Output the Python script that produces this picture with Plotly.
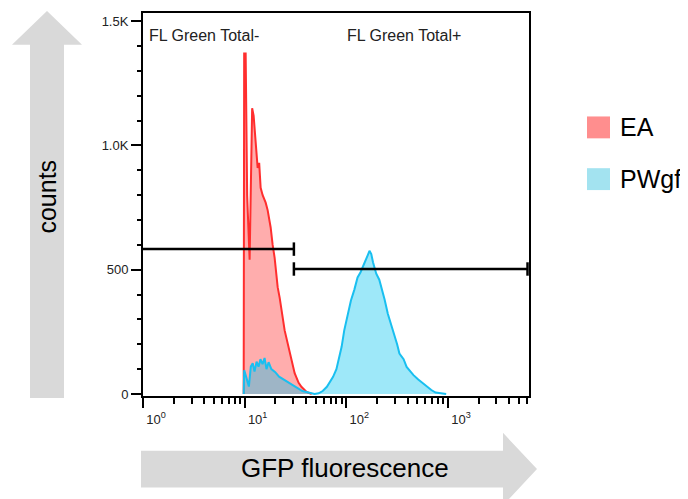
import numpy as np
import plotly.graph_objects as go

# histogram of EA (red) - fluorescence vs counts
ea_fl = [9.78, 9.89, 10.23, 10.58, 11.19, 11.59, 11.85, 12.25, 12.82, 13.42, 13.89,
         14.36, 15.03, 16.09, 16.83, 18.02, 18.85, 19.72, 21.12, 22.09, 24.74, 27.70,
         31.03, 33.96, 36.33, 40.66, 45.6]
ea_counts = [0, 1370, 1370, 800, 540, 900, 1150, 1120, 1000, 910, 930,
             830, 800, 770, 740, 670, 600, 548, 430, 388, 256, 164,
             84, 45, 28, 8, 0]

# histogram of PWgf (blue)
pw_fl = [9.78, 9.89, 10.5, 11.0, 11.5, 12.0, 12.5, 13.1, 13.7, 14.3, 15.0, 15.7,
         16.4, 17.2, 18.3, 20.0, 21.8, 23.9, 26.2, 29.4, 33.0, 37.0, 43.4, 48.7,
         53.4, 58.6, 64.4, 68.6, 74.1, 79.9, 84.1, 89.9, 95.4, 103, 111, 120, 129,
         138, 145, 151, 156, 163, 169, 176, 183, 197, 211, 222, 238, 256, 274, 294,
         316, 333, 366, 392, 416, 458, 510, 563, 623, 686, 755, 960]
pw_counts = [0, 96, 60, 30, 110, 124, 90, 130, 110, 140, 120, 145,
             100, 128, 100, 88, 70, 60, 50, 36, 24, 12, 5, 0,
             3, 12, 29, 45, 69, 100, 136, 190, 256, 320, 376, 420, 469,
             490, 509, 530, 544, 560, 576, 563, 530, 484, 460, 429, 380, 323, 285, 243,
             200, 163, 140, 109, 95, 76, 58, 43, 28, 16, 6, 0]

# gates
gate_neg = dict(x0=1, x1=30.5, y=583, label="FL Green Total-")
gate_pos = dict(x0=30.5, x1=6060, y=503, label="FL Green Total+")
cap_half = 27

y_major = [0, 500, 1000, 1500]
y_labels = ["0", "500", "1.0K", "1.5K"]
x_major = [1, 10, 100, 1000]
x_labels = ["10<sup>0</sup>", "10<sup>1</sup>", "10<sup>2</sup>", "10<sup>3</sup>"]

series_names = ["EA", "PWgf"]
legend_colors = ["#ff8e8e", "#a3e3f0"]

# the page body adds an 8px margin, so the figure is drawn 8px smaller
OFF = 8
FW, FH = 688 - OFF, 499 - OFF
# plot area in page pixels
L, R, T, B = 143, 529, 11, 396
W, H = R - L, B - T


def fx(px):
    return (px - L) / W


def fy(py):
    return (B - py) / H


FONT = "Arial, Liberation Sans, sans-serif"

fig = go.Figure()

fig.add_trace(go.Scatter(x=ea_fl, y=ea_counts, mode="lines", fill="tozeroy",
                         line=dict(color="#ff2e2e", width=2),
                         fillcolor="rgba(255,0,0,0.32)", showlegend=False))
fig.add_trace(go.Scatter(x=pw_fl, y=pw_counts, mode="lines", fill="tozeroy",
                         line=dict(color="#19bff0", width=2),
                         fillcolor="rgba(0,195,240,0.38)", showlegend=False))

for g, caps in [(gate_neg, [gate_neg["x1"]]),
                (gate_pos, [gate_pos["x0"], gate_pos["x1"]])]:
    xs = [g["x0"], g["x1"]]
    ys = [g["y"], g["y"]]
    for c in caps:
        xs += [None, c, c]
        ys += [None, g["y"] - cap_half, g["y"] + cap_half]
    fig.add_trace(go.Scatter(x=xs, y=ys, mode="lines",
                             line=dict(color="black", width=2.5),
                             showlegend=False, cliponaxis=False))

fig.add_annotation(x=np.log10(1.1), y=1444, text=gate_neg["label"], showarrow=False,
                   xanchor="left", yanchor="middle", font=dict(size=16, color="#222"))
fig.add_annotation(x=np.log10(98), y=1444, text=gate_pos["label"], showarrow=False,
                   xanchor="left", yanchor="middle", font=dict(size=16, color="#222"))

minor_x = [m * 10 ** d for d in range(0, 4) for m in range(2, 10) if m * 10 ** d < 6200]

fig.update_xaxes(type="log", range=[0, 3.797], showgrid=False, zeroline=False,
                 showline=True, linecolor="black", linewidth=2, mirror=True,
                 ticks="outside", ticklen=10, tickwidth=2, tickcolor="black",
                 tickvals=x_major, ticktext=x_labels, ticklabelshift=13,
                 tickfont=dict(size=13, color="#222"),
                 minor=dict(tickvals=minor_x, ticklen=6, tickwidth=1.5,
                            tickcolor="black", ticks="outside"))
fig.update_yaxes(range=[-8, 1533], showgrid=False, zeroline=False,
                 showline=True, linecolor="black", linewidth=2, mirror=True,
                 ticks="outside", ticklen=10, tickwidth=2, tickcolor="black",
                 tickvals=y_major, ticktext=y_labels,
                 tickfont=dict(size=13, color="#222"),
                 minor=dict(dtick=100, ticklen=4, tickwidth=1.5,
                            tickcolor="black", ticks="outside"))

grey = "#d9d9d9"
# vertical arrow (counts)
v = [(30, 398), (30, 43), (12, 43), (47, 9), (82, 43), (64, 43), (64, 398)]
fig.add_shape(type="path", xref="paper", yref="paper", line_width=0, fillcolor=grey,
              path="M " + " L ".join(f"{fx(a):.4f},{fy(b):.4f}" for a, b in v) + " Z")
# horizontal arrow (fluorescence)
h = [(141, 451), (503, 451), (503, 433), (537, 469.5), (503, 506), (503, 488), (141, 488)]
fig.add_shape(type="path", xref="paper", yref="paper", line_width=0, fillcolor=grey,
              path="M " + " L ".join(f"{fx(a):.4f},{fy(b):.4f}" for a, b in h) + " Z")

fig.add_annotation(xref="paper", yref="paper", x=fx(47.5), y=fy(196), text="counts",
                   textangle=-90, showarrow=False, xanchor="center", yanchor="middle",
                   font=dict(size=25, color="black"))
fig.add_annotation(xref="paper", yref="paper", x=fx(345), y=fy(468), text="GFP fluorescence",
                   showarrow=False, xanchor="center", yanchor="middle",
                   font=dict(size=26, color="black"))

# legend drawn by hand
for i, (name, col) in enumerate(zip(series_names, legend_colors)):
    top = 115 + i * 52
    fig.add_shape(type="rect", xref="paper", yref="paper", line_width=0, fillcolor=col,
                  x0=fx(587), x1=fx(610), y0=fy(top + 22), y1=fy(top))
    fig.add_annotation(xref="paper", yref="paper", x=fx(618), y=fy(top + 11), text=name,
                       showarrow=False, xanchor="left", yanchor="middle",
                       font=dict(size=25, color="black"))

fig.update_layout(width=FW, height=FH,
                  margin=dict(l=L - OFF, r=688 - R, t=T - OFF, b=499 - B),
                  plot_bgcolor="white", paper_bgcolor="white",
                  font=dict(family=FONT))

fig.write_html("out.html")
